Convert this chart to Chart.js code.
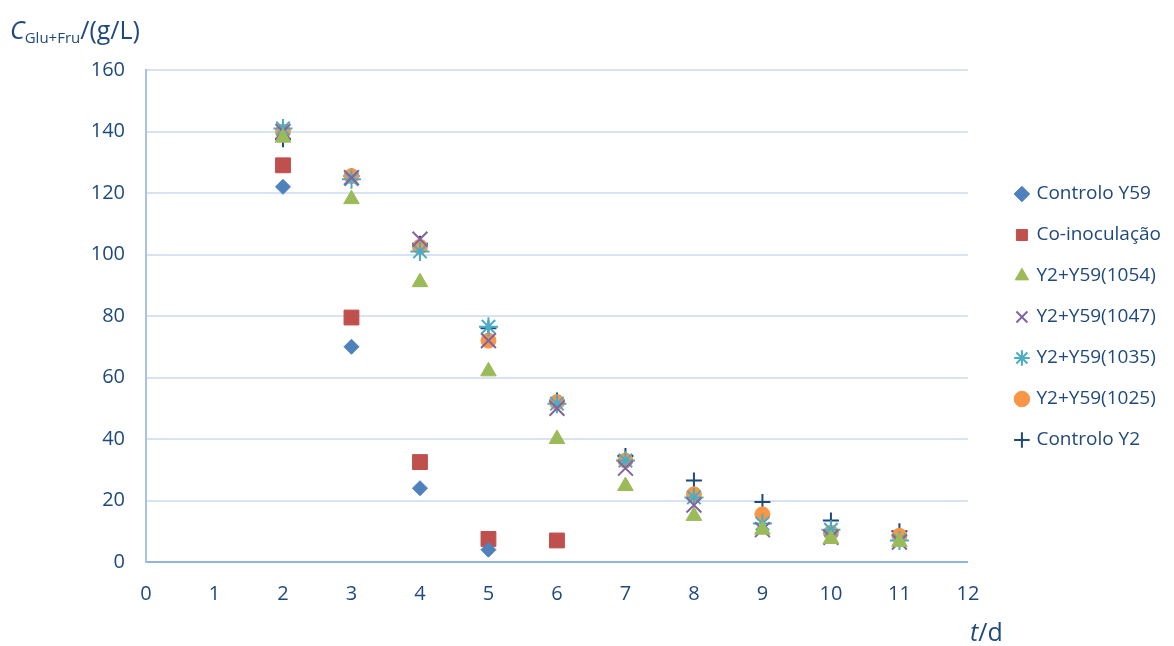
<!DOCTYPE html>
<html>
<head>
<meta charset="utf-8">
<script src="https://cdn.jsdelivr.net/npm/chart.js@4/dist/chart.umd.min.js"></script>
<style>
  html, body { margin: 0; padding: 0; background: #fff; }
  #wrap { width: 1174px; height: 646px; }
</style>
</head>
<body>
<div id="wrap"><canvas id="chart" width="1174" height="646"></canvas></div>
<script>
// Data
const days = [2, 3, 4, 5, 6, 7, 8, 9, 10, 11];
const controloY59 = [122, 70, 24, 4];
const coInoculacao = [129, 79.5, 32.5, 7.5, 7];
const y1054 = [138, 118, 91, 62, 40, 24.7, 15, 10.5, 7.5, 6.5];
const y1047 = [140, 125, 105, 72, 50, 30.5, 18.5, 10.5, 8, 6.5];
const y1035 = [141, 124.5, 101, 76.5, 51.5, 33, 21, 12.5, 10.5, 7];
const y1025 = [140, 125.5, 102.5, 72, 52, 33, 22, 15.5, 9.5, 8.5];
const controloY2 = [137.5, 125.5, 103.5, 76, 52.5, 34.5, 26.5, 19.5, 13.5, 10];

const xTicks = [0, 1, 2, 3, 4, 5, 6, 7, 8, 9, 10, 11, 12];
const yTicks = [0, 20, 40, 60, 80, 100, 120, 140, 160];

const textColor = '#1F497D';
const fontFamily = '"Open Sans", Lato, sans-serif';

function pts(values) {
    return values.map((v, i) => ({ x: days[i], y: v }));
}

function series(label, values, color, style, radius, filled) {
    return {
        label: label,
        data: pts(values),
        pointStyle: style,
        pointRadius: radius,
        pointHoverRadius: radius,
        backgroundColor: filled ? color : 'rgba(0,0,0,0)',
        borderColor: color,
        pointBorderWidth: filled ? 1 : 2,
        borderWidth: filled ? 1 : 2,
        showLine: false
    };
}

// Axis titles (with subscript) drawn on the canvas
const axisTitles = {
    id: 'axisTitles',
    afterDraw(chart) {
        const ctx = chart.ctx;
        ctx.save();
        ctx.fillStyle = textColor;
        ctx.textBaseline = 'alphabetic';
        ctx.textAlign = 'left';
        let x = 10;
        const base = 39;
        ctx.font = 'italic 25px ' + fontFamily;
        ctx.fillText('C', x, base);
        x += ctx.measureText('C').width;
        ctx.font = '15px ' + fontFamily;
        ctx.fillText('Glu+Fru', x, base + 4);
        x += ctx.measureText('Glu+Fru').width;
        ctx.font = '25px ' + fontFamily;
        ctx.fillText('/(g/L)', x, base);

        let tx = 970;
        const tb = 641;
        ctx.font = 'italic 25px ' + fontFamily;
        ctx.fillText('t', tx, tb);
        tx += ctx.measureText('t').width;
        ctx.font = '25px ' + fontFamily;
        ctx.fillText('/d', tx, tb);
        ctx.restore();
    }
};

const spacer = {
    type: 'linear',
    display: true,
    grid: { display: false, drawTicks: false },
    border: { display: false },
    ticks: { display: false }
};

new Chart(document.getElementById('chart'), {
    type: 'scatter',
    data: {
        datasets: [
            series('Controlo Y59', controloY59, '#4F81BD', 'rectRot', 7.5, true),
            series('Co-inoculação', coInoculacao, '#C0504D', 'rect', 10.5, true),
            series('Y2+Y59(1054)', y1054, '#9BBB59', 'triangle', 9, true),
            series('Y2+Y59(1047)', y1047, '#8064A2', 'crossRot', 10.5, false),
            series('Y2+Y59(1035)', y1035, '#4BACC6', 'star', 9.5, false),
            series('Y2+Y59(1025)', y1025, '#F79646', 'circle', 7.5, true),
            series('Controlo Y2', controloY2, '#1F497D', 'cross', 8, false)
        ]
    },
    options: {
        responsive: false,
        animation: false,
        layout: { padding: { left: 0, right: 3, top: 0, bottom: 12 } },
        plugins: {
            tooltip: { enabled: false },
            legend: {
                position: 'right',
                labels: {
                    usePointStyle: true,
                    boxWidth: 10,
                    boxHeight: 11,
                    padding: 22,
                    color: textColor,
                    font: { family: fontFamily, size: 19 }
                }
            }
        },
        scales: {
            x: {
                type: 'linear',
                min: 0,
                max: 12,
                afterBuildTicks: s => { s.ticks = xTicks.map(v => ({ value: v })); },
                afterFit: s => { s.height = 72; },
                grid: { display: false, drawTicks: false },
                border: { color: '#8EB4E3', width: 2 },
                ticks: { color: textColor, padding: 20, font: { family: fontFamily, size: 20 } }
            },
            y: {
                min: 0,
                max: 160,
                afterBuildTicks: s => { s.ticks = yTicks.map(v => ({ value: v })); },
                afterFit: s => { s.width = 146; },
                grid: { color: '#D9E2F1', lineWidth: 2, drawTicks: false },
                border: { color: '#A7C2E6', width: 2 },
                ticks: { color: textColor, padding: 21, font: { family: fontFamily, size: 20 } }
            },
            gapRight: Object.assign({}, spacer, { position: 'right', afterFit: s => { s.width = 27; } }),
            gapTop: Object.assign({}, spacer, { axis: 'x', position: 'top', afterFit: s => { s.height = 70; } })
        }
    },
    plugins: [axisTitles]
});
</script>
</body>
</html>
